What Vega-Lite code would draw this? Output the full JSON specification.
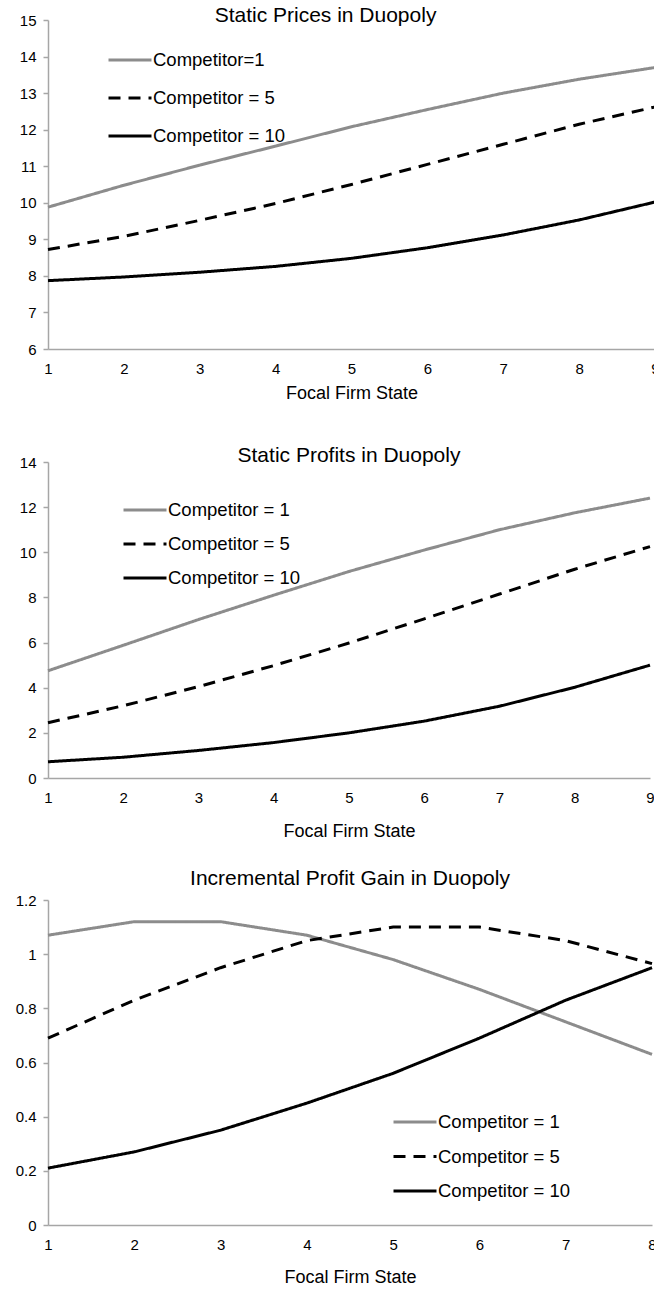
{
  "$schema": "https://vega.github.io/schema/vega-lite/v6.json",
  "background": "white",
  "padding": {"left": 5, "top": 5, "right": 0, "bottom": 0},
  "columns": 1,
  "align": "none",
  "spacing": 43,
  "config": {
    "font": "Liberation Sans",
    "view": {"stroke": null},
    "axis": {"grid": false, "domainColor": "#a6a6a6", "domainWidth": 1.5, "tickColor": "#a6a6a6", "tickWidth": 1.5, "labelColor": "black", "labelFontSize": 15, "titleFontSize": 18, "titleFontWeight": "normal", "titleColor": "black", "labelFont": "Liberation Sans", "titleFont": "Liberation Sans"},
    "title": {"fontSize": 21, "fontWeight": "normal", "color": "black", "font": "Liberation Sans"},
    "legend": {"symbolType": "stroke", "symbolStrokeWidth": 3, "labelFontSize": 18.5, "labelColor": "black", "labelOffset": 0, "labelFont": "Liberation Sans"},
    "line": {"strokeWidth": 3, "strokeCap": "butt"}
  },
  "datasets": {
    "prices": [
      {"state": 1, "series": "Competitor=1", "value": 9.88},
      {"state": 2, "series": "Competitor=1", "value": 10.48},
      {"state": 3, "series": "Competitor=1", "value": 11.03},
      {"state": 4, "series": "Competitor=1", "value": 11.55},
      {"state": 5, "series": "Competitor=1", "value": 12.08},
      {"state": 6, "series": "Competitor=1", "value": 12.55},
      {"state": 7, "series": "Competitor=1", "value": 13.0},
      {"state": 8, "series": "Competitor=1", "value": 13.38},
      {"state": 9, "series": "Competitor=1", "value": 13.7},
      {"state": 1, "series": "Competitor = 5", "value": 8.72},
      {"state": 2, "series": "Competitor = 5", "value": 9.08},
      {"state": 3, "series": "Competitor = 5", "value": 9.52},
      {"state": 4, "series": "Competitor = 5", "value": 9.98},
      {"state": 5, "series": "Competitor = 5", "value": 10.5},
      {"state": 6, "series": "Competitor = 5", "value": 11.05},
      {"state": 7, "series": "Competitor = 5", "value": 11.6},
      {"state": 8, "series": "Competitor = 5", "value": 12.15},
      {"state": 9, "series": "Competitor = 5", "value": 12.62},
      {"state": 1, "series": "Competitor = 10", "value": 7.87},
      {"state": 2, "series": "Competitor = 10", "value": 7.97},
      {"state": 3, "series": "Competitor = 10", "value": 8.1},
      {"state": 4, "series": "Competitor = 10", "value": 8.26},
      {"state": 5, "series": "Competitor = 10", "value": 8.48},
      {"state": 6, "series": "Competitor = 10", "value": 8.77},
      {"state": 7, "series": "Competitor = 10", "value": 9.12},
      {"state": 8, "series": "Competitor = 10", "value": 9.53},
      {"state": 9, "series": "Competitor = 10", "value": 10.02}
    ],
    "profits": [
      {"state": 1, "series": "Competitor = 1", "value": 4.75},
      {"state": 2, "series": "Competitor = 1", "value": 5.88},
      {"state": 3, "series": "Competitor = 1", "value": 7.02},
      {"state": 4, "series": "Competitor = 1", "value": 8.1},
      {"state": 5, "series": "Competitor = 1", "value": 9.15},
      {"state": 6, "series": "Competitor = 1", "value": 10.1},
      {"state": 7, "series": "Competitor = 1", "value": 11.0},
      {"state": 8, "series": "Competitor = 1", "value": 11.75},
      {"state": 9, "series": "Competitor = 1", "value": 12.4},
      {"state": 1, "series": "Competitor = 5", "value": 2.45},
      {"state": 2, "series": "Competitor = 5", "value": 3.2},
      {"state": 3, "series": "Competitor = 5", "value": 4.05},
      {"state": 4, "series": "Competitor = 5", "value": 4.98},
      {"state": 5, "series": "Competitor = 5", "value": 5.98},
      {"state": 6, "series": "Competitor = 5", "value": 7.05},
      {"state": 7, "series": "Competitor = 5", "value": 8.15},
      {"state": 8, "series": "Competitor = 5", "value": 9.25},
      {"state": 9, "series": "Competitor = 5", "value": 10.25},
      {"state": 1, "series": "Competitor = 10", "value": 0.72},
      {"state": 2, "series": "Competitor = 10", "value": 0.92},
      {"state": 3, "series": "Competitor = 10", "value": 1.22},
      {"state": 4, "series": "Competitor = 10", "value": 1.57},
      {"state": 5, "series": "Competitor = 10", "value": 2.0},
      {"state": 6, "series": "Competitor = 10", "value": 2.52},
      {"state": 7, "series": "Competitor = 10", "value": 3.18},
      {"state": 8, "series": "Competitor = 10", "value": 4.02},
      {"state": 9, "series": "Competitor = 10", "value": 5.0}
    ],
    "gains": [
      {"state": 1, "series": "Competitor = 1", "value": 1.07},
      {"state": 2, "series": "Competitor = 1", "value": 1.12},
      {"state": 3, "series": "Competitor = 1", "value": 1.12},
      {"state": 4, "series": "Competitor = 1", "value": 1.07},
      {"state": 5, "series": "Competitor = 1", "value": 0.98},
      {"state": 6, "series": "Competitor = 1", "value": 0.87},
      {"state": 7, "series": "Competitor = 1", "value": 0.75},
      {"state": 8, "series": "Competitor = 1", "value": 0.63},
      {"state": 1, "series": "Competitor = 5", "value": 0.69},
      {"state": 2, "series": "Competitor = 5", "value": 0.83},
      {"state": 3, "series": "Competitor = 5", "value": 0.95},
      {"state": 4, "series": "Competitor = 5", "value": 1.05},
      {"state": 5, "series": "Competitor = 5", "value": 1.1},
      {"state": 6, "series": "Competitor = 5", "value": 1.1},
      {"state": 7, "series": "Competitor = 5", "value": 1.05},
      {"state": 8, "series": "Competitor = 5", "value": 0.965},
      {"state": 1, "series": "Competitor = 10", "value": 0.21},
      {"state": 2, "series": "Competitor = 10", "value": 0.27},
      {"state": 3, "series": "Competitor = 10", "value": 0.35},
      {"state": 4, "series": "Competitor = 10", "value": 0.45},
      {"state": 5, "series": "Competitor = 10", "value": 0.56},
      {"state": 6, "series": "Competitor = 10", "value": 0.69},
      {"state": 7, "series": "Competitor = 10", "value": 0.83},
      {"state": 8, "series": "Competitor = 10", "value": 0.95}
    ]
  },
  "resolve": {"scale": {"color": "independent", "strokeDash": "independent"}, "legend": {"color": "independent", "strokeDash": "independent"}},
  "concat": [
    {
      "title": {"text": "Static Prices in Duopoly", "offset": -13, "dx": -26},
      "width": 607,
      "height": 329,
      "data": {"name": "prices"},
      "mark": {"type": "line"},
      "encoding": {
        "x": {"field": "state", "type": "quantitative", "scale": {"domain": [1, 9], "nice": false}, "axis": {"values": [1, 2, 3, 4, 5, 6, 7, 8, 9], "ticks": false, "tickSize": 0, "labelPadding": 12, "titlePadding": 8, "labelFlush": false, "title": "Focal Firm State"}},
        "y": {"field": "value", "type": "quantitative", "scale": {"domain": [6, 15], "nice": false, "zero": false}, "axis": {"values": [6, 7, 8, 9, 10, 11, 12, 13, 14, 15], "title": null, "tickSize": 5, "labelPadding": 7, "minExtent": 38, "maxExtent": 38}},
        "color": {"field": "series", "type": "nominal", "scale": {"domain": ["Competitor=1", "Competitor = 5", "Competitor = 10"], "range": ["#8c8c8c", "#000000", "#000000"]}, "legend": {"title": null, "orient": "none", "legendX": 59, "legendY": 17, "symbolSize": 1849, "rowPadding": 5}},
        "strokeDash": {"field": "series", "type": "nominal", "scale": {"domain": ["Competitor=1", "Competitor = 5", "Competitor = 10"], "range": [[1, 0], [12, 8], [1, 0]]}, "legend": {"title": null, "orient": "none", "legendX": 59, "legendY": 17, "symbolSize": 1849, "rowPadding": 5}}
      }
    },
    {
      "spacing": 28,
      "resolve": {"scale": {"color": "independent", "strokeDash": "independent"}, "legend": {"color": "independent", "strokeDash": "independent"}},
      "vconcat": [
        {
          "title": {"text": "Static Profits in Duopoly", "offset": -11},
          "width": 602,
          "height": 316,
          "data": {"name": "profits"},
          "mark": {"type": "line"},
          "encoding": {
            "x": {"field": "state", "type": "quantitative", "scale": {"domain": [1, 9], "nice": false}, "axis": {"values": [1, 2, 3, 4, 5, 6, 7, 8, 9], "ticks": false, "tickSize": 0, "labelPadding": 12, "titlePadding": 17, "labelFlush": false, "title": "Focal Firm State"}},
            "y": {"field": "value", "type": "quantitative", "scale": {"domain": [0, 14], "nice": false}, "axis": {"values": [0, 2, 4, 6, 8, 10, 12, 14], "title": null, "tickSize": 5, "labelPadding": 7, "minExtent": 43, "maxExtent": 43}},
            "color": {"field": "series", "type": "nominal", "scale": {"domain": ["Competitor = 1", "Competitor = 5", "Competitor = 10"], "range": ["#8c8c8c", "#000000", "#000000"]}, "legend": {"title": null, "orient": "none", "legendX": 74, "legendY": 25, "symbolSize": 1849, "rowPadding": 1}},
            "strokeDash": {"field": "series", "type": "nominal", "scale": {"domain": ["Competitor = 1", "Competitor = 5", "Competitor = 10"], "range": [[1, 0], [12, 8], [1, 0]]}, "legend": {"title": null, "orient": "none", "legendX": 74, "legendY": 25, "symbolSize": 1849, "rowPadding": 1}}
          }
        },
        {
          "title": {"text": "Incremental Profit Gain in Duopoly", "offset": 4},
          "width": 604,
          "height": 325,
          "data": {"name": "gains"},
          "mark": {"type": "line"},
          "encoding": {
            "x": {"field": "state", "type": "quantitative", "scale": {"domain": [1, 8], "nice": false}, "axis": {"values": [1, 2, 3, 4, 5, 6, 7, 8], "ticks": false, "tickSize": 0, "labelPadding": 12, "titlePadding": 16, "labelFlush": false, "title": "Focal Firm State"}},
            "y": {"field": "value", "type": "quantitative", "scale": {"domain": [0, 1.2], "nice": false}, "axis": {"values": [0, 0.2, 0.4, 0.6, 0.8, 1, 1.2], "format": "~g", "title": null, "tickSize": 5, "labelPadding": 7, "minExtent": 43, "maxExtent": 43}},
            "color": {"field": "series", "type": "nominal", "scale": {"domain": ["Competitor = 1", "Competitor = 5", "Competitor = 10"], "range": ["#8c8c8c", "#000000", "#000000"]}, "legend": {"title": null, "orient": "none", "legendX": 344, "legendY": 199, "symbolSize": 1849, "rowPadding": 1.5}},
            "strokeDash": {"field": "series", "type": "nominal", "scale": {"domain": ["Competitor = 1", "Competitor = 5", "Competitor = 10"], "range": [[1, 0], [12, 8], [1, 0]]}, "legend": {"title": null, "orient": "none", "legendX": 344, "legendY": 199, "symbolSize": 1849, "rowPadding": 1.5}}
          }
        }
      ]
    }
  ]
}
